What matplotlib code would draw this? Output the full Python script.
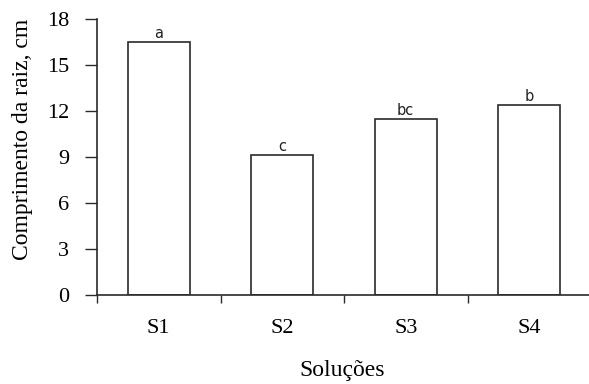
import matplotlib
matplotlib.use("Agg")
import matplotlib.pyplot as plt

categories = ["S1", "S2", "S3", "S4"]
values = [16.5, 9.1, 11.45, 12.4]
letters = ["a", "c", "bc", "b"]
yticks = [0, 3, 6, 9, 12, 15, 18]

plt.rcParams['font.family'] = ['Liberation Serif', 'DejaVu Serif']

fig = plt.figure(figsize=(5.89, 3.84), dpi=100)
ax = fig.add_axes([97/589, 1-295/384, (591-97)/589, (295-19)/384])

x = list(range(len(categories)))
lc = '#2a2a2a'
bars = ax.bar(x, values, width=0.5, color='white', edgecolor=lc, linewidth=1.2)
for xi, v, l in zip(x, values, letters):
    ax.text(xi, v + 0.08, l, ha='center', va='bottom', fontsize=10.5,
            family=['DejaVu Sans'], color='#222222')

ax.set_xlim(-0.5, 3.5)
ax.set_ylim(0, 18)
ax.set_yticks(yticks)
ax.set_xticks([-0.5, 0.5, 1.5, 2.5, 3.5])
ax.set_xticklabels([])
ax.set_xticks(x, minor=True)
ax.set_xticklabels(categories, minor=True, fontsize=16)
ax.tick_params(axis='x', which='minor', length=0, pad=17)
ax.tick_params(axis='x', which='major', length=6, width=1.0, color=lc, direction='out')
ax.tick_params(axis='y', length=9, width=1.0, color=lc, labelsize=16, pad=11)

for s in ['top', 'right']:
    ax.spines[s].set_visible(False)
for s in ['left', 'bottom']:
    ax.spines[s].set_color(lc)
    ax.spines[s].set_linewidth(1.2)

ax.set_ylabel("Comprimento da raiz, cm", fontsize=17)
ax.yaxis.set_label_coords(-0.13, 0.565)
ax.set_xlabel("Soluções", fontsize=17)
ax.xaxis.set_label_coords(0.497, -0.236)

fig.savefig("out.png", dpi=100)
